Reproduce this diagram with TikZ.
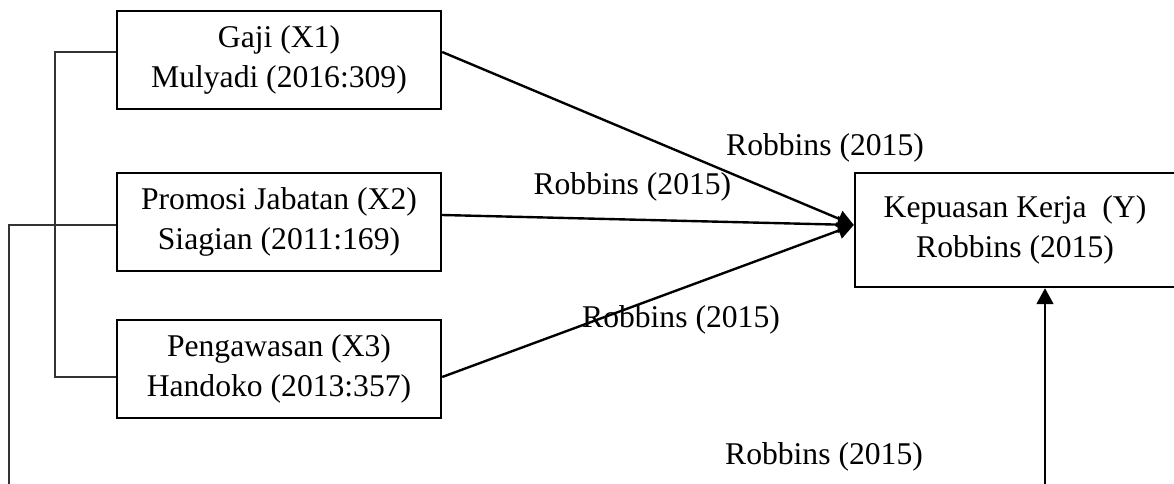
\documentclass[tikz,border=0pt]{standalone}
\usepackage{fontspec}
\setmainfont{Liberation Serif}
\usetikzlibrary{arrows.meta}
\tikzset{
  varbox/.style={rectangle, draw=black, line width=1.7pt, align=center, font=\fontsize{22.5}{28}\selectfont,
                 minimum width=8.1cm, minimum height=2.45cm, inner sep=2pt},
  lnk/.style={line width=0.8pt, draw=black!80},
  arr/.style={-{Triangle[length=0.4cm, width=0.42cm]}, line width=1.7pt, draw=black},
  ref/.style={font=\fontsize{22.5}{28}\selectfont, inner sep=1pt},
}
\begin{document}
\begin{tikzpicture}
  \useasboundingbox (0,0) rectangle (29.35,-12.1);
  \node[varbox] (gaji) at (6.975,-1.5) {Gaji (X1)\\Mulyadi (2016:309)};
  \node[varbox] (promosi) at (6.975,-5.55) {Promosi Jabatan (X2)\\Siagian (2011:169)};
  \node[varbox] (awas) at (6.975,-9.225) {Pengawasan (X3)\\Handoko (2013:357)};
  \node[varbox, minimum width=8cm, minimum height=2.85cm] (puas) at (25.375,-5.75) {Kepuasan Kerja\ \ (Y)\\Robbins (2015)};
  \coordinate (kiri) at (0.225,-12.1);
  \coordinate (bawah) at (26.125,-12.1);
  \draw[lnk] ([yshift=0.2cm]gaji.west) -| (1.375,-9.425) -- ([yshift=-0.2cm]awas.west);
  \draw[lnk] ([yshift=-0.075cm]promosi.west) -| (kiri);
  \draw[arr] ([yshift=0.2cm]gaji.east) -- ([yshift=0.125cm]puas.west);
  \draw[arr] ([yshift=0.175cm]promosi.east) -- ([yshift=0.125cm]puas.west);
  \draw[arr] ([yshift=-0.2cm]awas.east) -- ([yshift=0.125cm]puas.west);
  \draw[arr] (bawah) -- (bawah |- puas.south);
  \node[ref] (r1) at (20.625,-3.7) {Robbins (2015)};
  \node[ref] (r2) at (15.81,-4.675) {Robbins (2015)};
  \node[ref] (r3) at (17.025,-8.0) {Robbins (2015)};
  \node[ref] (r4) at (20.6,-11.425) {Robbins (2015)};
\end{tikzpicture}
\end{document}
